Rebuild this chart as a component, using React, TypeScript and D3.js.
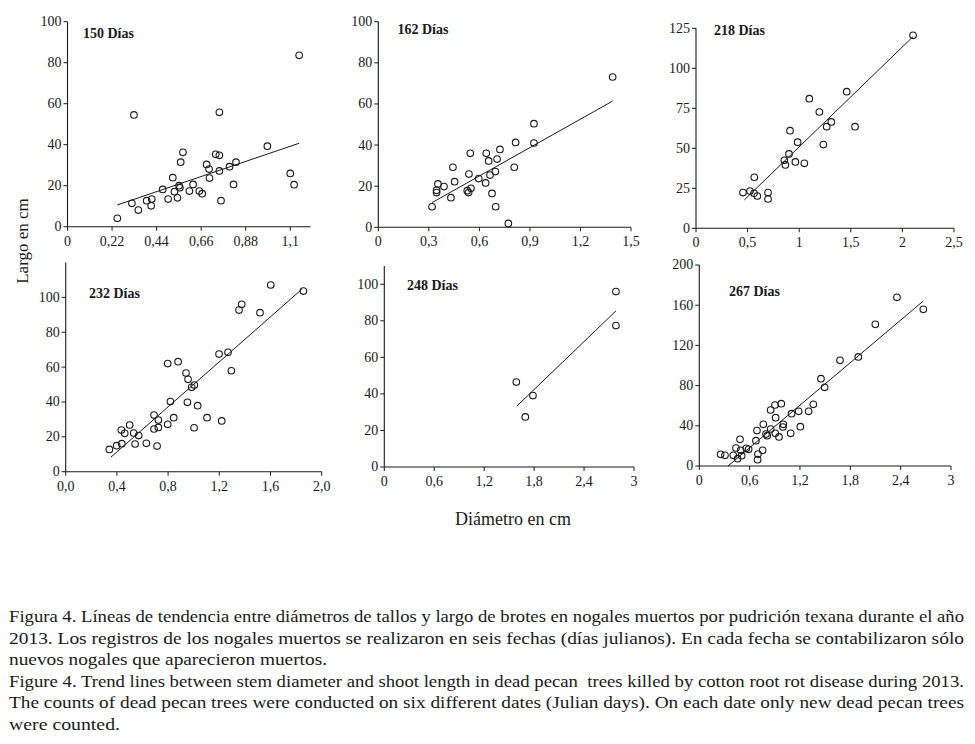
import React from "react";
import * as d3 from "d3";

// ---------- data ----------
const panelTitles = ["150 Días", "162 Días", "218 Días", "232 Días", "248 Días", "267 Días"];

const x150 = [0.246, 0.328, 0.318, 0.35, 0.391, 0.416, 0.413, 0.47, 0.497, 0.52, 0.528, 0.543, 0.551, 0.555, 0.559, 0.57, 0.602, 0.62, 0.651, 0.665, 0.687, 0.699, 0.701, 0.732, 0.75, 0.75, 0.75, 0.758, 0.8, 0.82, 0.832, 0.987, 1.1, 1.119, 1.144];
const y150 = [4.1, 54.5, 11.4, 8.1, 12.7, 13.5, 10.2, 18.2, 13.5, 23.9, 17.1, 14.1, 20, 19, 31.5, 36.3, 17.4, 20.6, 17.4, 16.1, 30.4, 28.1, 23.7, 35.3, 34.8, 55.8, 27.2, 12.7, 29.3, 20.6, 31.5, 39.3, 26, 20.5, 83.6];
const trend150 = [0.246, 10.6, 1.144, 40.7];

const x162 = [0.319, 0.346, 0.346, 0.354, 0.39, 0.431, 0.443, 0.453, 0.528, 0.536, 0.538, 0.546, 0.55, 0.596, 0.637, 0.641, 0.655, 0.663, 0.675, 0.695, 0.697, 0.705, 0.722, 0.772, 0.807, 0.815, 0.924, 0.924, 1.391];
const y162 = [10.0, 16.9, 18.0, 21.1, 19.8, 14.4, 29.2, 22.2, 17.8, 16.9, 25.9, 36.0, 19.0, 23.7, 21.6, 36.0, 32.3, 25.4, 16.5, 27.1, 10.0, 33.2, 37.9, 1.9, 29.2, 41.3, 50.4, 41.0, 73.1];
const trend162 = [0.319, 12.0, 1.391, 61.4];

const x218 = [0.455, 0.523, 0.565, 0.562, 0.594, 0.698, 0.698, 0.856, 0.866, 0.901, 0.911, 0.963, 0.985, 1.05, 1.098, 1.195, 1.234, 1.266, 1.311, 1.46, 1.541, 2.103];
const y218 = [22.3, 23.3, 31.9, 21.9, 20.2, 22.3, 18.3, 42.5, 39.6, 46.5, 61.0, 41.5, 53.8, 40.6, 81.0, 72.7, 52.3, 63.5, 66.5, 85.4, 63.5, 120.6];
const trend218 = [0.468, 17.7, 2.103, 119.8];

const x232 = [0.341, 0.398, 0.438, 0.435, 0.461, 0.5, 0.531, 0.542, 0.57, 0.63, 0.69, 0.69, 0.714, 0.724, 0.724, 0.797, 0.797, 0.818, 0.844, 0.878, 0.94, 0.951, 0.956, 0.984, 1.003, 1.005, 1.031, 1.104, 1.198, 1.219, 1.268, 1.294, 1.354, 1.375, 1.518, 1.602, 1.857];
const y232 = [12.8, 14.9, 16.1, 23.9, 22.0, 26.8, 22.2, 15.9, 20.7, 16.3, 32.5, 24.5, 14.7, 29.6, 25.4, 27.2, 62.0, 40.2, 31.0, 63.1, 56.6, 39.8, 53.0, 48.4, 25.2, 49.7, 37.9, 31.0, 67.5, 29.1, 68.5, 57.9, 92.7, 96.0, 91.2, 107.1, 103.6];
const trend232 = [0.354, 8.4, 1.844, 104.6];

const x248 = [1.586, 1.694, 1.786, 2.783, 2.783];
const y248 = [46.5, 27.4, 39.1, 96.0, 77.4];
const trend248 = [1.594, 33.4, 2.783, 85.4];

const x267 = [0.254, 0.306, 0.405, 0.437, 0.457, 0.485, 0.493, 0.505, 0.56, 0.588, 0.675, 0.687, 0.699, 0.695, 0.755, 0.763, 0.795, 0.81, 0.85, 0.85, 0.902, 0.91, 0.906, 0.95, 0.977, 0.997, 1.001, 1.089, 1.1, 1.184, 1.204, 1.303, 1.359, 1.45, 1.494, 1.677, 1.895, 2.098, 2.356, 2.67];
const y267 = [11.6, 10.6, 10.6, 17.9, 7.3, 26.5, 15.6, 10.3, 17.6, 16.6, 25.2, 35.2, 11.9, 6.3, 15.6, 41.5, 31.8, 30.2, 36.8, 55.7, 60.7, 48.1, 32.5, 28.9, 62.0, 38.8, 41.5, 32.5, 52.1, 54.4, 39.1, 54.4, 61.4, 86.9, 78.3, 105.1, 108.5, 141.0, 167.8, 155.9];
const trend267 = [0.342, 0, 2.67, 164.2];

const xTicks150 = [0, 0.22, 0.44, 0.66, 0.88, 1.1];
const xLabels150 = ["0", "0,22", "0,44", "0,66", "0,88", "1,1"];
const xTicks162 = [0, 0.3, 0.6, 0.9, 1.2, 1.5];
const xLabels162 = ["0", "0,3", "0,6", "0,9", "1,2", "1,5"];
const xTicks218 = [0, 0.5, 1, 1.5, 2, 2.5];
const xLabels218 = ["0", "0,5", "1", "1,5", "2", "2,5"];
const xTicks232 = [0, 0.4, 0.8, 1.2, 1.6, 2.0];
const xLabels232 = ["0,0", "0,4", "0,8", "1,2", "1,6", "2,0"];
const xTicks3 = [0, 0.6, 1.2, 1.8, 2.4, 3];
const xLabels3 = ["0", "0,6", "1,2", "1,8", "2,4", "3"];

const yTicks100 = [0, 20, 40, 60, 80, 100];
const yTicks125 = [0, 25, 50, 75, 100, 125];
const yTicks200 = [0, 40, 80, 120, 160, 200];

const yAxisTitle = "Largo en cm";
const xAxisTitle = "Diámetro en cm";

const captionLines = [
  "Figura 4. Líneas de tendencia entre diámetros de tallos y largo de brotes en nogales muertos por pudrición texana durante el año",
  "2013. Los registros de los nogales muertos se realizaron en seis fechas (días julianos). En cada fecha se contabilizaron sólo",
  "nuevos nogales que aparecieron muertos.",
  "Figure 4. Trend lines between stem diameter and shoot length in dead pecan  trees killed by cotton root rot disease during 2013.",
  "The counts of dead pecan trees were conducted on six different dates (Julian days). On each date only new dead pecan trees",
  "were counted.",
];
const captionWidths = [955, 955, 318, 955, 955, 111];

// ---------- layout ----------
const panels = [
  { title: panelTitles[0], xs: x150, ys: y150, trend: trend150, xMax: 1.2, yMax: 100, xTicks: xTicks150, xLabels: xLabels150, yTicks: yTicks100,
    left: 67.5, right: 310.5, top: 21.7, bottom: 226.7, tx: 83, ty: 38 },
  { title: panelTitles[1], xs: x162, ys: y162, trend: trend162, xMax: 1.5, yMax: 100, xTicks: xTicks162, xLabels: xLabels162, yTicks: yTicks100,
    left: 378.3, right: 631, top: 21.7, bottom: 227.3, tx: 397.5, ty: 34 },
  { title: panelTitles[2], xs: x218, ys: y218, trend: trend218, xMax: 2.5, yMax: 125, xTicks: xTicks218, xLabels: xLabels218, yTicks: yTicks125,
    left: 696, right: 954, top: 28.3, bottom: 228.3, tx: 714, ty: 35 },
  { title: panelTitles[3], xs: x232, ys: y232, trend: trend232, xMax: 2.0, yMax: 120, xTicks: xTicks232, xLabels: xLabels232, yTicks: yTicks100,
    left: 65.7, right: 321.7, top: 262.5, bottom: 471.7, tx: 89, ty: 298 },
  { title: panelTitles[4], xs: x248, ys: y248, trend: trend248, xMax: 3, yMax: 110, xTicks: xTicks3, xLabels: xLabels3, yTicks: yTicks100,
    left: 384.3, right: 634, top: 266, bottom: 467, tx: 407, ty: 290 },
  { title: panelTitles[5], xs: x267, ys: y267, trend: trend267, xMax: 3, yMax: 200, xTicks: xTicks3, xLabels: xLabels3, yTicks: yTicks200,
    left: 699.3, right: 951, top: 265, bottom: 466, tx: 729, ty: 295.5 },
];

const FONT = "'Liberation Serif', 'Times New Roman', serif";
const INK = "#1a1a1a";

function Panel({ p }: { p: any }) {
  const x = d3.scaleLinear().domain([0, p.xMax]).range([p.left, p.right]);
  const y = d3.scaleLinear().domain([0, p.yMax]).range([p.bottom, p.top]);
  const line = d3.line<number[]>().x((d) => x(d[0])).y((d) => y(d[1]));
  const trendPts = [[p.trend[0], p.trend[1]], [p.trend[2], p.trend[3]]];
  return (
    <g>
      {/* axes */}
      <line x1={p.left} x2={p.right} y1={p.bottom} y2={p.bottom} stroke={INK} strokeWidth={1.1} />
      <line x1={p.left} x2={p.left} y1={p.bottom} y2={p.top} stroke={INK} strokeWidth={1.1} />
      {p.xTicks.map((t: number, i: number) => (
        <g key={"xt" + i} transform={`translate(${x(t)},${p.bottom})`}>
          <line y1={0} y2={4} stroke={INK} strokeWidth={1} />
          <text y={9} dy="0.71em" textAnchor="middle" fontSize={14} fontFamily={FONT} fill={INK}>
            {p.xLabels[i]}
          </text>
        </g>
      ))}
      {p.yTicks.map((t: number, i: number) => (
        <g key={"yt" + i} transform={`translate(${p.left},${y(t)})`}>
          <line x1={0} x2={-4} stroke={INK} strokeWidth={1} />
          <text x={-6} dy="0.32em" textAnchor="end" fontSize={14} fontFamily={FONT} fill={INK}>
            {t}
          </text>
        </g>
      ))}
      {/* trend line */}
      <path d={line(trendPts) || ""} fill="none" stroke={INK} strokeWidth={1} />
      {/* points */}
      {p.xs.map((v: number, i: number) => (
        <circle key={"c" + i} cx={x(v)} cy={y(p.ys[i])} r={3.3} fill="none" stroke={INK} strokeWidth={1.1} />
      ))}
      <text x={p.tx} y={p.ty} fontSize={14} fontWeight="bold" fontFamily={FONT} fill={INK}>
        {p.title}
      </text>
    </g>
  );
}

export default function App() {
  const captionY0 = 622;
  const captionStep = 21.6;
  return (
    <div style={{ position: "absolute", left: 0, top: 0 }}>
      <svg width={975} height={744} style={{ display: "block", background: "#fff" }}>
        <rect width={975} height={744} fill="#fff" />
        {panels.map((p, i) => (
          <Panel key={i} p={p} />
        ))}
        <text transform="translate(28,241) rotate(-90)" textAnchor="middle" fontSize={17} fontFamily={FONT} fill={INK}>
          {yAxisTitle}
        </text>
        <text x={513} y={525} textAnchor="middle" fontSize={18} fontFamily={FONT} fill={INK}>
          {xAxisTitle}
        </text>
        {captionLines.map((l, i) => (
          <text key={"cap" + i} x={9} y={captionY0 + i * captionStep} fontSize={17} fontFamily={FONT} fill={INK}
            textLength={captionWidths[i]} lengthAdjust="spacingAndGlyphs" xmlSpace="preserve">
            {l}
          </text>
        ))}
      </svg>
    </div>
  );
}
